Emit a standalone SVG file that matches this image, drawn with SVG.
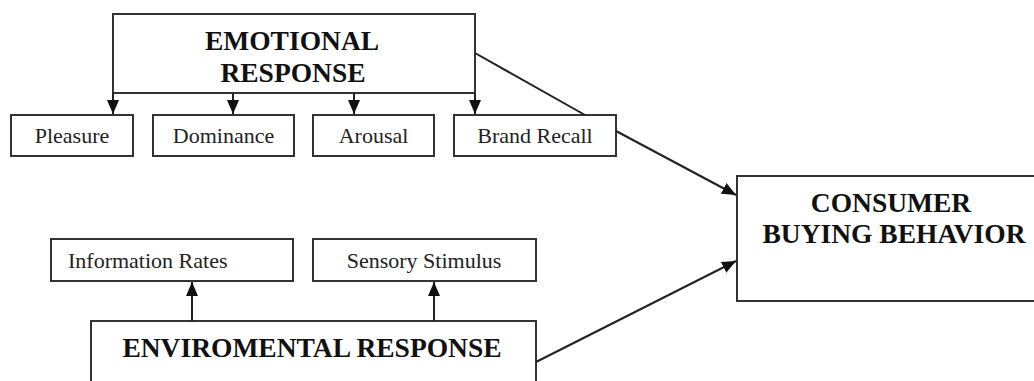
<svg xmlns="http://www.w3.org/2000/svg" width="1034" height="381" viewBox="0 0 1034 381">
<defs>
<marker id="ah" viewBox="0 0 14 12" refX="14" refY="6" markerWidth="14" markerHeight="12" markerUnits="userSpaceOnUse" orient="auto">
<path d="M0,0 L14,6 L0,12 Z" fill="#111"/>
</marker>
<style>
.box{fill:#fff;stroke:#333;stroke-width:2}
.ln{fill:none;stroke:#222;stroke-width:2}
.arr{fill:none;stroke:#222;stroke-width:2;marker-end:url(#ah)}
.big{font-family:"Liberation Serif","Times New Roman",serif;font-weight:bold;font-size:27.5px;fill:#111;text-anchor:middle}
.sm{font-family:"Liberation Serif","Times New Roman",serif;font-size:22px;fill:#222;text-anchor:middle}
</style>
</defs>
<rect width="1034" height="381" fill="#fff"/>
<g id="emotional">
<rect class="box" x="113" y="14" width="362" height="79"/>
<text class="big" x="292" y="50">EMOTIONAL</text>
<text class="big" x="293" y="82">RESPONSE</text>
</g>
<g id="pleasure">
<rect class="box" x="11" y="115" width="122" height="41"/>
<text class="sm" x="72" y="143">Pleasure</text>
</g>
<g id="dominance">
<rect class="box" x="153" y="115" width="141" height="41"/>
<text class="sm" x="223.5" y="143">Dominance</text>
</g>
<g id="arousal">
<rect class="box" x="313" y="115" width="121" height="41"/>
<text class="sm" x="373.5" y="143">Arousal</text>
</g>
<g id="brand-recall">
<rect class="box" x="454" y="115" width="162" height="41"/>
<text class="sm" x="535" y="143">Brand Recall</text>
</g>
<g id="information-rates">
<rect class="box" x="51" y="239" width="242" height="42"/>
<text class="sm" x="68" y="268" style="text-anchor:start">Information Rates</text>
</g>
<g id="sensory-stimulus">
<rect class="box" x="313" y="239" width="223" height="42"/>
<text class="sm" x="424" y="268">Sensory Stimulus</text>
</g>
<g id="enviromental">
<rect class="box" x="91" y="321" width="445" height="80"/>
<text class="big" x="312" y="357">ENVIROMENTAL RESPONSE</text>
</g>
<g id="consumer">
<rect class="box" x="737" y="176" width="310" height="125"/>
<text class="big" x="891" y="212">CONSUMER</text>
<text class="big" x="894" y="243">BUYING BEHAVIOR</text>
</g>
<g id="connectors">
<line class="arr" x1="113" y1="93" x2="113" y2="114"/>
<line class="arr" x1="233" y1="93" x2="233" y2="114"/>
<line class="arr" x1="354" y1="93" x2="354" y2="114"/>
<line class="arr" x1="475" y1="93" x2="475" y2="114"/>
<line class="ln" x1="475" y1="53" x2="585" y2="115"/>
<line class="arr" x1="616" y1="131" x2="736" y2="195"/>
<line class="arr" x1="192" y1="321" x2="192" y2="282"/>
<line class="arr" x1="434" y1="321" x2="434" y2="282"/>
<line class="arr" x1="536" y1="362" x2="736" y2="261"/>
</g>
</svg>
